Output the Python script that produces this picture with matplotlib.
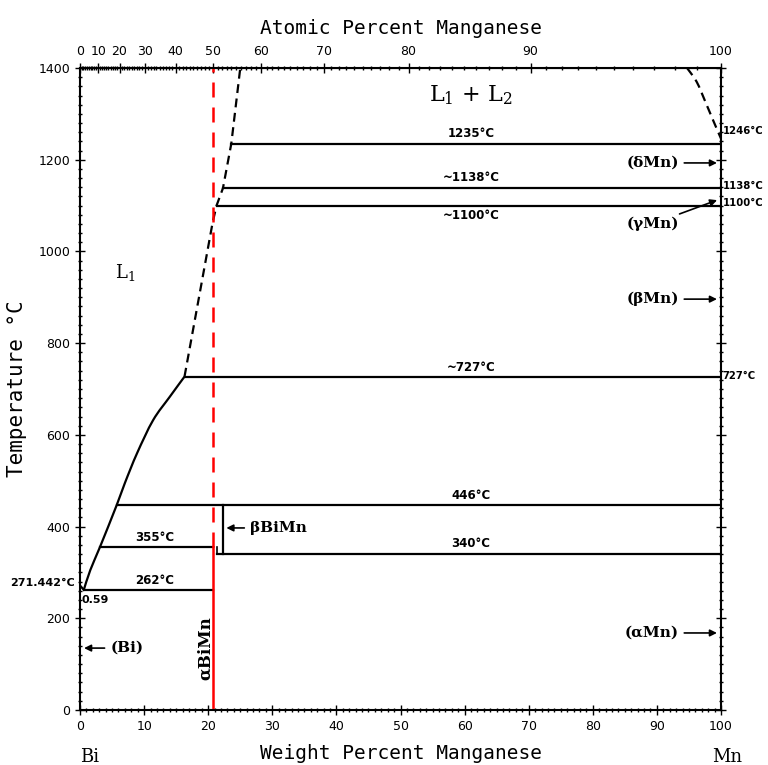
import numpy as np
import matplotlib
matplotlib.use('Agg')
import matplotlib.pyplot as plt
from matplotlib.path import Path
from matplotlib.patches import PathPatch
from matplotlib.ticker import MultipleLocator, FixedLocator

plt.rcParams['mathtext.fontset'] = 'dejavuserif'

M_MN = 54.938
M_BI = 208.98

# liquidus (solid part) wt% Mn, T degC
liq_w = [0.59, 1.6, 3.1, 5.7, 7.0, 8.9, 11.4, 14.0, 16.3]
liq_t = [262, 305, 355, 446, 495, 560, 632, 683, 727]

# Bi melting point to eutectic
bi_w = [0.0, 0.59]
bi_t = [271.442, 262]

# liquidus (dashed, uncertain)
liq2_w = [16.3, 20.7, 21.3, 22.3, 23.6, 25.0]
liq2_t = [727, 1064, 1100, 1138, 1235, 1400]

# miscibility gap, Mn side (dashed)
gap_w = [94.7, 96.2, 97.6, 98.8, 100.0]
gap_t = [1400, 1370, 1325, 1285, 1246]

# invariant horizontals: start wt%, end wt%, T
iso_start = [23.6, 22.3, 21.3, 16.3, 5.7, 3.1, 21.3, 0.59]
iso_end = [100, 100, 100, 100, 100, 20.8, 100, 20.8]
iso_t = [1235, 1138, 1100, 727, 446, 355, 340, 262]

bimn_w = 20.8        # alpha BiMn compound
beta_w = 22.3        # beta BiMn


def wt_to_at(w):
    w = np.asarray(w, dtype=float)
    a = w / M_MN
    b = (100 - w) / M_BI
    return 100 * a / (a + b)


def at_to_wt(x):
    x = np.asarray(x, dtype=float)
    a = x * M_MN
    b = (100 - x) * M_BI
    return 100 * a / (a + b)


def smooth_path(xs, ys):
    # catmull-rom through the points, as cubic bezier segments
    p = np.column_stack([xs, ys]).astype(float)
    verts = [p[0]]
    codes = [Path.MOVETO]
    n = len(p)
    for i in range(n - 1):
        p0 = p[i - 1] if i > 0 else p[i]
        p1, p2 = p[i], p[i + 1]
        p3 = p[i + 2] if i + 2 < n else p[i + 1]
        c1 = p1 + (p2 - p0) / 6
        c2 = p2 - (p3 - p1) / 6
        verts += [c1, c2, p2]
        codes += [Path.CURVE4] * 3
    return Path(verts, codes)


fig = plt.figure(figsize=(7.68, 7.65), dpi=100)
ax = fig.add_axes([0.1042, 0.0719, 0.8346, 0.8392])
ax.set_xlim(0, 100)
ax.set_ylim(0, 1400)

lw = 1.6
ax.add_patch(PathPatch(smooth_path(liq_w, liq_t), fill=False, color='black', lw=lw))
ax.plot(bi_w, bi_t, color='black', lw=lw)
ax.plot(liq2_w, liq2_t, color='black', lw=lw, ls=(0, (4, 2.5)))
ax.add_patch(PathPatch(smooth_path(gap_w, gap_t), fill=False, color='black', lw=lw,
                       ls=(0, (4, 2.5))))
for s, e, t in zip(iso_start, iso_end, iso_t):
    ax.plot([s, e], [t, t], color='black', lw=lw)

# small step and beta BiMn boundary
ax.plot([21.3, 21.3], [340, 355], color='black', lw=1.2)
ax.plot([beta_w, beta_w], [340, 446], color='black', lw=lw)

# red compound line
ax.plot([bimn_w, bimn_w], [0, 355], color='red', lw=1.8)
ax.plot([bimn_w, bimn_w], [355, 1400], color='red', lw=1.8, ls=(0, (6, 4)))

# temperature labels
lab_kw = dict(fontsize=8.5, fontweight='bold', family='DejaVu Sans', ha='center')
ax.text(61, 1243, '1235°C', va='bottom', **lab_kw)
ax.text(61, 1146, '~1138°C', va='bottom', **lab_kw)
ax.text(61, 1092, '~1100°C', va='top', **lab_kw)
ax.text(61, 733, '~727°C', va='bottom', **lab_kw)
ax.text(61, 453, '446°C', va='bottom', **lab_kw)
ax.text(61, 348, '340°C', va='bottom', **lab_kw)
ax.text(11.7, 361, '355°C', va='bottom', **lab_kw)
ax.text(11.7, 268, '262°C', va='bottom', **lab_kw)

side_kw = dict(fontsize=8, fontweight='bold', family='DejaVu Sans', va='center')
ax.text(-0.8, 277, '271.442°C', ha='right', **side_kw)
ax.text(0.3, 240, '0.59', ha='left', **side_kw)
for t, s in zip([1262, 1143, 1105, 728], ['1246°C', '1138°C', '1100°C', '727°C']):
    ax.text(100.25, t, s, ha='left', clip_on=False, fontsize=7.3, fontweight='bold',
            family='DejaVu Sans', va='center')

# phase labels
ax.text(7.0, 955, 'L$_1$', ha='center', va='center', fontsize=13, family='DejaVu Serif')
ax.text(61, 1341, 'L$_1$ + L$_2$', ha='center', va='center', fontsize=16, family='DejaVu Serif')

arr = dict(arrowstyle='-|>', color='black', lw=1.2, mutation_scale=10)
ann_kw = dict(fontsize=11, family='DejaVu Serif', fontweight='bold', va='center')
ax.annotate('(δMn)', xy=(99.8, 1193), xytext=(93.4, 1193), ha='right', arrowprops=arr, **ann_kw)
ax.annotate('(βMn)', xy=(99.8, 896), xytext=(93.4, 896), ha='right', arrowprops=arr, **ann_kw)
ax.annotate('(αMn)', xy=(99.8, 168), xytext=(93.4, 168), ha='right', arrowprops=arr, **ann_kw)
ax.annotate('(γMn)', xy=(99.8, 1114), xytext=(93.4, 1060), ha='right',
            arrowprops=dict(arrowstyle='-|>', color='black', lw=1.2, mutation_scale=10,
                            shrinkA=0), **ann_kw)
ax.annotate('(Bi)', xy=(0.2, 135), xytext=(4.7, 135), ha='left', arrowprops=arr, **ann_kw)
ax.annotate('βBiMn', xy=(beta_w + 0.1, 397), xytext=(26.5, 397), ha='left', arrowprops=arr, **ann_kw)
ax.text(19.6, 135, 'αBiMn', rotation=90, ha='center', fontsize=12, family='DejaVu Serif',
        fontweight='bold', va='center')

# axes styling
mono = 'DejaVu Sans Mono'
ax.set_xlabel('Weight Percent Manganese', fontsize=14, family=mono, labelpad=8)
ax.set_ylabel('Temperature °C', fontsize=15, family=mono, labelpad=8)
ax.xaxis.set_major_locator(MultipleLocator(10))
ax.xaxis.set_minor_locator(MultipleLocator(1))
ax.yaxis.set_major_locator(MultipleLocator(200))
ax.yaxis.set_minor_locator(MultipleLocator(20))
ax.tick_params(which='both', direction='inout', right=True, labelsize=9)
ax.tick_params(which='major', length=7, width=1.0)
ax.tick_params(which='minor', length=3, width=1.0)
for sp in ax.spines.values():
    sp.set_linewidth(1.5)

top = ax.secondary_xaxis('top', functions=(wt_to_at, at_to_wt))
top.xaxis.set_major_locator(FixedLocator(np.arange(0, 101, 10)))
top.xaxis.set_minor_locator(FixedLocator(np.arange(0, 101, 1)))
top.tick_params(which='both', direction='inout', labelsize=9)
top.tick_params(which='major', length=7, width=1.0)
top.tick_params(which='minor', length=3, width=1.0)
top.set_xlabel('Atomic Percent Manganese', fontsize=14, family=mono, labelpad=8)

fig.text(90 / 768, 1 - 757 / 765, 'Bi', fontsize=13, family='DejaVu Serif', ha='center', va='center')
fig.text(727 / 768, 1 - 757 / 765, 'Mn', fontsize=13, family='DejaVu Serif', ha='center', va='center')

fig.savefig('out.png', dpi=100)
